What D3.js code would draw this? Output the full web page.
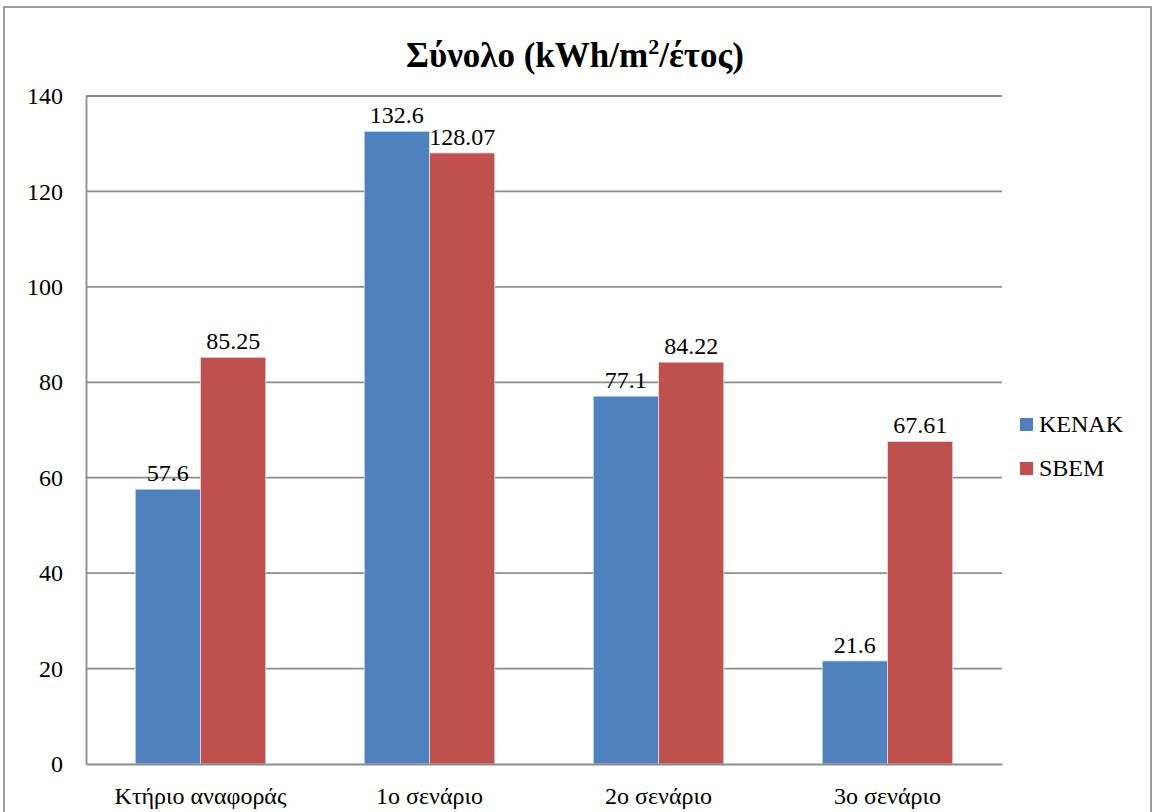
<!DOCTYPE html>
<html>
<head>
<meta charset="utf-8">
<script src="https://cdn.jsdelivr.net/npm/d3@7"></script>
</head>
<body style="margin:0">
<script>
const categories = ["Κτήριο αναφοράς", "1ο σενάριο", "2ο σενάριο", "3ο σενάριο"];
const seriesNames = ["KENAK", "SBEM"];
const kenakValues = [57.6, 132.6, 77.1, 21.6];
const sbemValues = [85.25, 128.07, 84.22, 67.61];
const seriesColors = ["#4f81bd", "#c0504d"];
const yTicks = [0, 20, 40, 60, 80, 100, 120, 140];

const FONT = "Liberation Serif";
const W = 1155, H = 812;
const plot = { left: 86, right: 1002, top: 96, bottom: 764 };

const svg = d3.select("body").append("svg")
  .attr("width", W).attr("height", H)
  .attr("font-family", FONT)
  .style("display", "block");

// outer frame
svg.append("rect")
  .attr("x", 4).attr("y", 7)
  .attr("width", W - 8).attr("height", H + 10)
  .attr("fill", "#fff").attr("stroke", "#7f7f7f").attr("stroke-width", 1.5);

// title
const heading = svg.append("text")
  .attr("x", 575).attr("y", 67)
  .attr("text-anchor", "middle")
  .style("font-family", FONT)
  .style("font-size", "35px").style("font-weight", "bold");
heading.append("tspan").text("Σύνολο (kWh/m");
heading.append("tspan").attr("dy", -13).style("font-size", "22px").text("2");
heading.append("tspan").attr("dy", 13).text("/έτος)");

const x0 = d3.scaleBand().domain(categories).range([plot.left, plot.right]).paddingInner(0.43).paddingOuter(0.215);
const x1 = d3.scaleBand().domain(seriesNames).range([0, x0.bandwidth()]);
const y = d3.scaleLinear().domain([0, 140]).range([plot.bottom, plot.top]);

// gridlines
svg.append("g").selectAll("line").data(yTicks.filter(d => d > 0)).join("line")
  .attr("x1", plot.left).attr("x2", plot.right)
  .attr("y1", d => y(d)).attr("y2", d => y(d))
  .attr("stroke", "#8c8c8c").attr("stroke-width", 1.8);

// y axis
const yAxis = svg.append("g")
  .attr("transform", `translate(${plot.left},0)`)
  .call(d3.axisLeft(y).tickValues(yTicks).tickSize(0).tickPadding(23))
  .attr("font-family", FONT);
yAxis.select(".domain").attr("stroke", "#8c8c8c").attr("stroke-width", 1.8);
yAxis.selectAll("text").attr("fill", "#000")
  .style("font-family", FONT).style("font-size", "24px");

const rows = categories.map((c, i) => ({ cat: c, values: [kenakValues[i], sbemValues[i]] }));

const groups = svg.append("g").selectAll("g").data(rows).join("g")
  .attr("transform", d => `translate(${x0(d.cat)},0)`);

groups.selectAll("rect")
  .data(d => d.values.map((v, j) => ({ name: seriesNames[j], value: v, color: seriesColors[j] })))
  .join("rect")
  .attr("x", d => x1(d.name))
  .attr("y", d => y(d.value))
  .attr("width", x1.bandwidth())
  .attr("height", d => y(0) - y(d.value))
  .attr("fill", d => d.color)
  .attr("stroke", "#dbe3ee").attr("stroke-width", 0.8);

// value labels
groups.selectAll("text.val")
  .data(d => d.values.map((v, j) => ({ name: seriesNames[j], value: v })))
  .join("text")
  .attr("class", "val")
  .attr("x", d => x1(d.name) + x1.bandwidth() / 2)
  .attr("y", d => y(d.value) - 8)
  .attr("text-anchor", "middle")
  .style("font-family", FONT).style("font-size", "24px")
  .text(d => d.value);

// x axis
const xAxis = svg.append("g")
  .attr("transform", `translate(0,${plot.bottom})`)
  .call(d3.axisBottom(x0).tickSize(0).tickPadding(23))
  .attr("font-family", FONT);
xAxis.select(".domain").attr("stroke", "#8c8c8c").attr("stroke-width", 1.8);
xAxis.selectAll("text").attr("fill", "#000")
  .style("font-family", FONT).style("font-size", "24px");

// legend
const legend = svg.append("g").selectAll("g").data(seriesNames).join("g")
  .attr("transform", (d, i) => `translate(1020,${432 + i * 44})`);
legend.append("rect")
  .attr("x", 0).attr("y", -14).attr("width", 13).attr("height", 13)
  .attr("fill", (d, i) => seriesColors[i]);
legend.append("text")
  .attr("x", 19).attr("y", 0)
  .style("font-family", FONT).style("font-size", "24px")
  .text(d => d);
</script>
</body>
</html>
